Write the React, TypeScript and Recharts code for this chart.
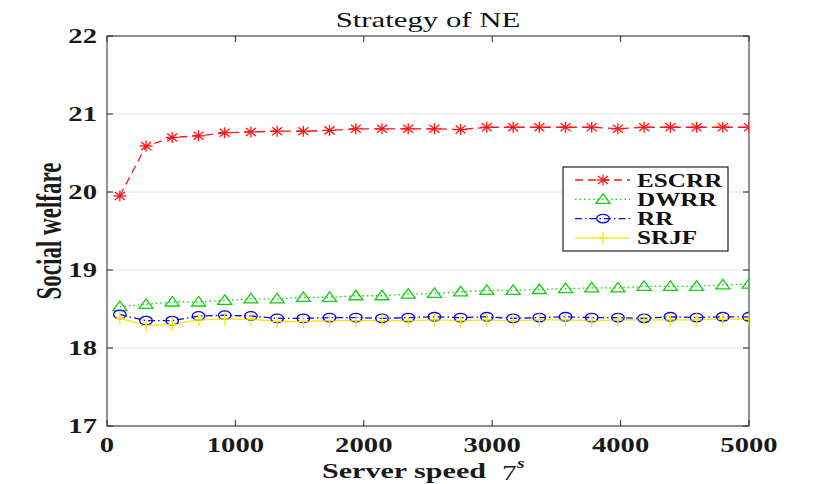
import React from 'react';
import { LineChart, Line, XAxis, YAxis, CartesianGrid } from 'recharts';

// ---- data ----
const serverSpeed = [100, 304, 508, 713, 917, 1121, 1325, 1529, 1733, 1938, 2142, 2346, 2550, 2754, 2958, 3163, 3367, 3571, 3775, 3979, 4183, 4388, 4592, 4796, 5000];
const escrrValues = [19.95, 20.59, 20.70, 20.72, 20.76, 20.77, 20.78, 20.78, 20.79, 20.81, 20.81, 20.81, 20.81, 20.80, 20.83, 20.83, 20.83, 20.83, 20.83, 20.81, 20.83, 20.83, 20.83, 20.83, 20.83];
const dwrrValues = [18.53, 18.56, 18.59, 18.59, 18.61, 18.63, 18.63, 18.65, 18.65, 18.67, 18.67, 18.69, 18.70, 18.72, 18.74, 18.74, 18.75, 18.76, 18.77, 18.77, 18.79, 18.79, 18.79, 18.81, 18.82];
const rrValues = [18.43, 18.35, 18.35, 18.41, 18.42, 18.41, 18.38, 18.38, 18.39, 18.39, 18.38, 18.39, 18.40, 18.39, 18.40, 18.38, 18.39, 18.40, 18.39, 18.39, 18.38, 18.40, 18.39, 18.40, 18.40];
const srjfValues = [18.38, 18.29, 18.30, 18.36, 18.37, 18.37, 18.34, 18.34, 18.35, 18.35, 18.35, 18.35, 18.36, 18.35, 18.36, 18.35, 18.36, 18.36, 18.35, 18.36, 18.36, 18.36, 18.36, 18.37, 18.37];
const xTicks = [0, 1000, 2000, 3000, 4000, 5000];
const yTicks = [17, 18, 19, 20, 21, 22];
const seriesNames = ['ESCRR', 'DWRR', 'RR', 'SRJF'];

const titleText = 'Strategy of NE';
const xLabelText = 'Server speed';
const yLabelText = 'Social welfare';

// ---- styles ----
const SX = 1.4;
const FONT = '"Liberation Serif", "Times New Roman", Times, serif';
const AXIS = '#262626';

type MarkerType = 'star' | 'triangle' | 'circle' | 'plus';
const seriesStyle: { color: string; dash?: string; marker: MarkerType }[] = [
  { color: '#ff1414', dash: '8 5', marker: 'star' },
  { color: '#10d010', dash: '1.5 3', marker: 'triangle' },
  { color: '#0a0ae6', dash: '7 3 1.5 3', marker: 'circle' },
  { color: '#f7e600', marker: 'plus' },
];
const seriesValues = [escrrValues, dwrrValues, rrValues, srjfValues];

const data = serverSpeed.map((x, i) => {
  const row: Record<string, number> = { x };
  seriesNames.forEach((n, k) => { row[n] = seriesValues[k][i]; });
  return row;
});

function Marker({ type, cx, cy, color }: { type: MarkerType; cx: number; cy: number; color: string }) {
  const sw = 1.3;
  if (type === 'star') {
    return (
      <g stroke={color} strokeWidth={sw} fill="none">
        <line x1={cx - 6.5} y1={cy} x2={cx + 6.5} y2={cy} />
        <line x1={cx} y1={cy - 5.5} x2={cx} y2={cy + 5.5} />
        <line x1={cx - 5} y1={cy - 4} x2={cx + 5} y2={cy + 4} />
        <line x1={cx - 5} y1={cy + 4} x2={cx + 5} y2={cy - 4} />
      </g>
    );
  }
  if (type === 'triangle') {
    return (
      <polygon
        points={`${cx},${cy - 5.5} ${cx + 7},${cy + 4} ${cx - 7},${cy + 4}`}
        stroke={color}
        strokeWidth={sw}
        fill="none"
      />
    );
  }
  if (type === 'circle') {
    return <ellipse cx={cx} cy={cy} rx={6.3} ry={4.3} stroke={color} strokeWidth={sw} fill="none" />;
  }
  return (
    <g stroke={color} strokeWidth={sw} fill="none">
      <line x1={cx} y1={cy - 6.5} x2={cx} y2={cy + 6.5} />
      <line x1={cx - 5} y1={cy} x2={cx + 5} y2={cy} />
    </g>
  );
}

const tickText = {
  fontFamily: FONT,
  fontWeight: 'bold' as const,
  fontSize: 20.5,
  fill: '#1a1a1a',
};

const XTickBottom = (props: any) => {
  const { x, y, payload } = props;
  return (
    <g>
      <line x1={x} y1={y} x2={x} y2={y - 6} stroke={AXIS} strokeWidth={1} />
      <text transform={`translate(${x},${y + 26}) scale(${SX},1)`} textAnchor="middle" {...tickText}>
        {payload.value}
      </text>
    </g>
  );
};
const XTickTop = (props: any) => {
  const { x, y } = props;
  return <line x1={x} y1={y} x2={x} y2={y + 6} stroke={AXIS} strokeWidth={1} />;
};
const YTickLeft = (props: any) => {
  const { x, y, payload } = props;
  return (
    <g>
      <line x1={x} y1={y} x2={x + 6} y2={y} stroke={AXIS} strokeWidth={1} />
      <text transform={`translate(${x - 10},${y + 7}) scale(${SX},1)`} textAnchor="end" {...tickText}>
        {payload.value}
      </text>
    </g>
  );
};
const YTickRight = (props: any) => {
  const { x, y } = props;
  return <line x1={x} y1={y} x2={x - 6} y2={y} stroke={AXIS} strokeWidth={1} />;
};

const LegendBox = () => (
  <svg width={167} height={86} style={{ position: 'absolute', left: 562, top: 166 }}>
    <rect x={1} y={1} width={165} height={84} fill="#fff" stroke="#222" strokeWidth={1.2} />
    {seriesNames.map((name, i) => {
      const st = seriesStyle[i];
      const cy = 14 + i * 19.3;
      return (
        <g key={name}>
          <line x1={13} y1={cy} x2={68} y2={cy} stroke={st.color} strokeWidth={1.3} strokeDasharray={st.dash} />
          <Marker type={st.marker} cx={41} cy={cy} color={st.color} />
          <text
            transform={`translate(75,${cy + 6.5}) scale(${SX},1)`}
            fontFamily={FONT}
            fontWeight="bold"
            fontSize={18}
            fill="#111"
          >
            {name}
          </text>
        </g>
      );
    })}
  </svg>
);

export default function App() {
  return (
    <div style={{ position: 'absolute', left: 0, top: 0, width: 828, height: 484, background: '#fff' }}>
      <LineChart
        width={828}
        height={484}
        data={data}
        margin={{ top: 35, right: 78, bottom: 28, left: 57 }}
      >
        <CartesianGrid vertical={false} stroke="#e6e6e6" strokeWidth={1} />
        <XAxis
          dataKey="x"
          type="number"
          domain={[0, 5000]}
          ticks={xTicks}
          interval={0}
          height={30}
          tickSize={0}
          tickMargin={0}
          tickLine={false}
          axisLine={{ stroke: AXIS, strokeWidth: 1 }}
          tick={<XTickBottom />}
          allowDataOverflow
        />
        <XAxis
          xAxisId="top"
          orientation="top"
          dataKey="x"
          type="number"
          domain={[0, 5000]}
          ticks={xTicks}
          interval={0}
          height={1}
          tickSize={0}
          tickMargin={0}
          tickLine={false}
          axisLine={{ stroke: AXIS, strokeWidth: 1 }}
          tick={<XTickTop />}
          allowDataOverflow
        />
        <YAxis
          type="number"
          domain={[17, 22]}
          ticks={yTicks}
          interval={0}
          width={50}
          tickSize={0}
          tickMargin={0}
          tickLine={false}
          axisLine={{ stroke: AXIS, strokeWidth: 1 }}
          tick={<YTickLeft />}
          allowDataOverflow
        />
        <YAxis
          yAxisId="right"
          orientation="right"
          type="number"
          domain={[17, 22]}
          ticks={yTicks}
          interval={0}
          width={1}
          tickSize={0}
          tickMargin={0}
          tickLine={false}
          axisLine={{ stroke: AXIS, strokeWidth: 1 }}
          tick={<YTickRight />}
          allowDataOverflow
        />
        {seriesNames.map((name, i) => {
          const st = seriesStyle[i];
          return (
            <Line
              key={name}
              dataKey={name}
              type="linear"
              stroke={st.color}
              strokeWidth={1.3}
              strokeDasharray={st.dash}
              isAnimationActive={false}
              dot={(p: any) => (
                <Marker key={`${name}-${p.index}`} type={st.marker} cx={p.cx} cy={p.cy} color={st.color} />
              )}
              activeDot={false}
            />
          );
        })}
      </LineChart>
      <svg width={828} height={484} style={{ position: 'absolute', left: 0, top: 0, pointerEvents: 'none' }}>
        <text
          transform={`translate(428,27) scale(${SX},1)`}
          textAnchor="middle"
          fontFamily={FONT}
          fontSize={22}
          fill="#111"
        >
          {titleText}
        </text>
        <text
          transform={`translate(486,478) scale(${SX},1)`}
          textAnchor="end"
          fontFamily={FONT}
          fontWeight="bold"
          fontSize={21.5}
          fill="#1a1a1a"
        >
          {xLabelText}
        </text>
        <text
          transform={`translate(502,480) scale(${SX},1)`}
          textAnchor="start"
          fontFamily={FONT}
          fontSize={21}
          fill="#1a1a1a"
        >
          7
        </text>
        <text
          transform={`translate(517,468) scale(${SX},1)`}
          textAnchor="start"
          fontFamily={FONT}
          fontWeight="bold"
          fontStyle="italic"
          fontSize={14}
          fill="#1a1a1a"
        >
          s
        </text>
        <text
          transform={`translate(61,231) scale(1.55,1) rotate(-90)`}
          textAnchor="middle"
          fontFamily={FONT}
          fontWeight="bold"
          fontSize={23}
          fill="#1a1a1a"
        >
          {yLabelText}
        </text>
      </svg>
      <LegendBox />
    </div>
  );
}
